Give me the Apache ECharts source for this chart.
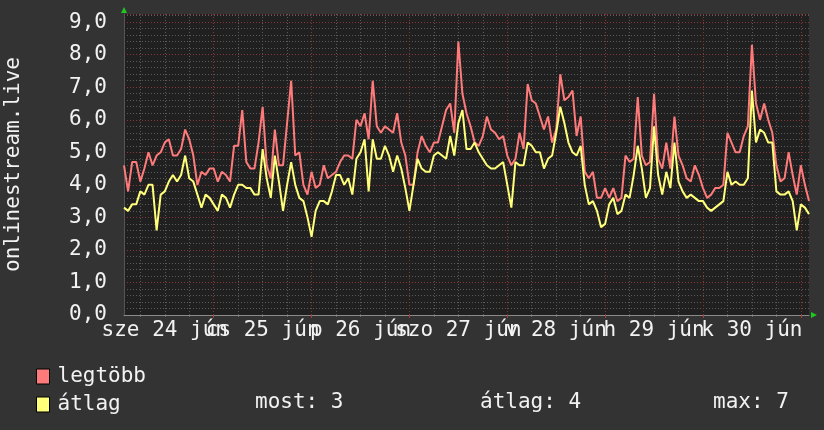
<!DOCTYPE html>
<html>
<head>
<meta charset="utf-8">
<script src="https://cdn.jsdelivr.net/npm/echarts@6/dist/echarts.min.js"></script>
<style>
  html, body { margin: 0; padding: 0; background: #333333; }
  #chart { width: 824px; height: 430px; }
</style>
</head>
<body>
<div id="chart"></div>
<script>
// hourly samples, 2020-06-24 02:00 .. 2020-07-01 02:00
const maxValues = [
  4.6, 3.8, 4.7, 4.7, 4.1, 4.5, 5.0, 4.6, 4.9, 5.0, 5.3, 5.4, 4.9, 4.9, 5.1, 5.7, 5.4, 4.9, 4.0, 4.4,
  4.3, 4.5, 4.5, 4.1, 4.4, 4.3, 4.1, 5.2, 5.2, 6.3, 4.7, 4.5, 4.5, 5.3, 6.4, 4.6, 4.2, 5.7, 4.6, 4.6,
  5.9, 7.2, 4.9, 5.0, 4.0, 3.7, 4.4, 3.9, 4.0, 4.6, 4.2, 4.3, 4.4, 4.7, 4.9, 4.9, 4.8, 6.0, 5.8, 6.2,
  5.4, 7.2, 5.8, 5.6, 5.8, 5.7, 5.6, 6.2, 5.3, 4.9, 4.0, 4.0, 5.0, 5.5, 5.2, 5.0, 5.3, 5.3, 5.8, 6.3,
  6.5, 5.6, 8.4, 6.8, 6.2, 5.8, 5.3, 5.2, 5.5, 6.1, 5.7, 5.6, 5.4, 5.5, 4.9, 4.6, 4.8, 5.6, 5.1, 7.1,
  6.6, 6.5, 6.1, 5.7, 6.1, 5.3, 5.7, 7.4, 6.6, 6.7, 6.9, 5.5, 6.1, 4.4, 4.2, 4.4, 3.6, 3.6, 3.9, 3.6,
  3.9, 3.5, 3.6, 4.9, 4.7, 4.8, 6.7, 4.9, 4.6, 4.7, 6.8, 4.8, 4.5, 5.3, 4.5, 6.1, 4.9, 4.6, 4.2, 4.1,
  4.6, 4.3, 3.9, 3.6, 3.7, 3.9, 3.9, 4.0, 5.6, 5.3, 5.0, 5.0, 5.5, 5.8, 8.3, 6.5, 6.0, 6.5, 6.0, 5.6,
  4.6, 4.1, 4.2, 5.0, 4.3, 3.7, 4.6, 4.0, 3.5
];
const avgValues = [
  3.3, 3.2, 3.4, 3.4, 3.8, 3.7, 4.0, 4.0, 2.6, 3.7, 3.8, 4.1, 4.3, 4.1, 4.3, 4.9, 4.2, 4.1, 3.7, 3.3,
  3.7, 3.6, 3.4, 3.2, 3.7, 3.6, 3.3, 3.7, 4.0, 4.0, 3.9, 3.9, 3.7, 3.7, 5.1, 4.2, 3.6, 4.9, 4.1, 3.2,
  4.0, 4.7, 4.0, 3.6, 3.5, 3.0, 2.4, 3.2, 3.5, 3.5, 3.4, 3.8, 4.3, 4.3, 4.0, 4.2, 3.7, 4.8, 5.0, 5.4,
  3.8, 5.4, 4.8, 4.8, 5.2, 4.9, 4.4, 4.9, 4.5, 3.9, 3.2, 4.0, 4.8, 4.5, 4.4, 4.4, 4.9, 5.0, 4.9, 4.8,
  5.5, 4.9, 5.9, 6.3, 5.1, 5.1, 5.3, 5.0, 4.8, 4.6, 4.5, 4.5, 4.6, 4.7, 4.0, 3.3, 4.7, 4.6, 4.6, 5.3,
  5.2, 5.0, 5.0, 4.5, 4.8, 4.9, 5.6, 6.4, 5.9, 5.3, 5.0, 4.9, 5.2, 4.0, 3.4, 3.5, 3.2, 2.7, 2.8, 3.4,
  3.6, 3.1, 3.2, 3.7, 3.6, 4.3, 5.2, 4.5, 3.6, 3.9, 5.8, 4.3, 3.7, 4.4, 3.9, 5.3, 4.1, 3.8, 3.6, 3.7,
  3.6, 3.5, 3.5, 3.3, 3.2, 3.3, 3.4, 3.5, 4.4, 4.0, 4.1, 4.0, 4.0, 4.2, 6.9, 5.3, 5.7, 5.6, 5.3, 5.3,
  3.8, 3.7, 3.7, 3.8, 3.5, 2.6, 3.4, 3.3, 3.1
];
// labels placed at noon of each day
const dayLabels = ['sze 24 jún', 'cs 25 jún', 'p 26 jún', 'szo 27 jún', 'v 28 jún', 'h 29 jún', 'k 30 jún'];

const startTime = Date.UTC(2020, 5, 24, 2);
const hours = maxValues.map((_, i) => {
  const d = new Date(startTime + i * 3600000);
  return (d.getUTCMonth() + 1) + '-' + d.getUTCDate() + ' ' + d.getUTCHours() + ':00';
});

const font = '"DejaVu Sans Mono", monospace';
const textColor = '#f2f2f2';
const redGrid = '#8a3535';
const grayGrid = '#5a5a5a';

const dayOf = i => (i - 10) / 24;
const isNoon = i => i % 24 === 10;
// labels overlap like in rrdtool, so even and odd days go on two axes
const isEvenNoon = i => isNoon(i) && dayOf(i) % 2 === 0;
const isOddNoon = i => isNoon(i) && dayOf(i) % 2 === 1;
const isMidnight = i => i % 24 === 22;
const isSixHours = i => (i + 2) % 6 === 0;

const last = avgValues[avgValues.length - 1];
const mean = avgValues.reduce((a, b) => a + b, 0) / avgValues.length;
const peak = Math.max(...avgValues);

const dayLabel = {
  showMinLabel: true,
  showMaxLabel: true,
  hideOverlap: false,
  color: textColor,
  fontFamily: font,
  fontSize: 21,
  margin: 5,
  formatter: (v, i) => dayLabels[dayOf(i)] || ''
};

let myChart = echarts.init(document.getElementById('chart'));
let option = {
  backgroundColor: '#333333',
  animation: false,
  grid: {
    left: 124,
    right: 15,
    top: 14,
    bottom: 115,
    outerBoundsMode: 'none',
    containLabel: false,
    show: true,
    backgroundColor: '#202020',
    borderWidth: 0
  },
  legend: {
    orient: 'vertical',
    left: 31,
    top: 361,
    itemWidth: 13,
    itemHeight: 15,
    itemGap: 7,
    icon: 'rect',
    itemStyle: { borderColor: '#000', borderWidth: 1 },
    textStyle: { color: textColor, fontFamily: font, fontSize: 21, lineHeight: 21, padding: [0, 0, 0, 3] },
    data: ['legtöbb', 'átlag']
  },
  xAxis: [
    {
      type: 'category',
      data: hours,
      boundaryGap: false,
      z: 1,
      axisLine: { show: true, lineStyle: { color: '#8a8a8a', width: 1 } },
      axisTick: { show: true, interval: isMidnight, length: 3, lineStyle: { color: '#b03c3c' } },
      axisLabel: Object.assign({ interval: isEvenNoon }, dayLabel),
      splitLine: { show: true, interval: isMidnight, lineStyle: { color: redGrid, type: [1, 2] } }
    },
    {
      type: 'category',
      data: hours,
      boundaryGap: false,
      position: 'bottom',
      z: 0,
      axisLine: { show: false },
      axisTick: { show: true, interval: isSixHours, length: 2, lineStyle: { color: '#666' } },
      axisLabel: Object.assign({ interval: isOddNoon }, dayLabel),
      splitLine: { show: true, interval: isSixHours, lineStyle: { color: grayGrid, type: [1, 2] } }
    }
  ],
  yAxis: [
    {
      type: 'value',
      min: 0,
      max: 9.25,
      interval: 1,
      z: 1,
      name: 'onlinestream.live',
      nameLocation: 'middle',
      nameGap: 100,
      nameTextStyle: { color: textColor, fontFamily: font, fontSize: 21 },
      axisLine: { show: true, lineStyle: { color: '#555555' } },
      axisTick: { show: false },
      axisLabel: {
        color: textColor,
        fontFamily: font,
        fontSize: 21,
        margin: 17,
        formatter: v => Number.isInteger(v) ? v.toFixed(1).replace('.', ',') : ''
      },
      splitLine: { show: true, lineStyle: { color: redGrid, type: [1, 2] } }
    },
    {
      type: 'value',
      min: 0,
      max: 9.25,
      interval: 0.2,
      z: 0,
      axisLine: { show: false },
      axisTick: { show: false },
      axisLabel: { show: false },
      splitLine: { show: true, lineStyle: { color: grayGrid, type: [1, 2] } }
    }
  ],
  series: [
    {
      name: 'legtöbb',
      type: 'line',
      data: maxValues,
      showSymbol: false,
      itemStyle: { color: '#ff7b7b' },
      lineStyle: { color: '#ff7b7b', width: 2 },
      z: 2
    },
    {
      name: 'átlag',
      type: 'line',
      data: avgValues,
      showSymbol: false,
      itemStyle: { color: '#ffff7a' },
      lineStyle: { color: '#ffff7a', width: 2 },
      z: 3
    }
  ],
  graphic: [
    // rrdtool style arrows at the axis ends
    { type: 'polygon', shape: { points: [[121, 13], [127, 13], [124, 7]] }, style: { fill: '#1ec81e' } },
    { type: 'polygon', shape: { points: [[811, 312], [811, 318], [817, 315]] }, style: { fill: '#1ec81e' } },
    { type: 'text', left: 255, top: 392, style: { text: 'most: ' + Math.round(last), fill: textColor, font: '21px ' + font } },
    { type: 'text', left: 480, top: 392, style: { text: 'átlag: ' + Math.round(mean), fill: textColor, font: '21px ' + font } },
    { type: 'text', left: 713, top: 392, style: { text: 'max: ' + Math.round(peak), fill: textColor, font: '21px ' + font } }
  ]
};
myChart.setOption(option);
</script>
</body>
</html>
